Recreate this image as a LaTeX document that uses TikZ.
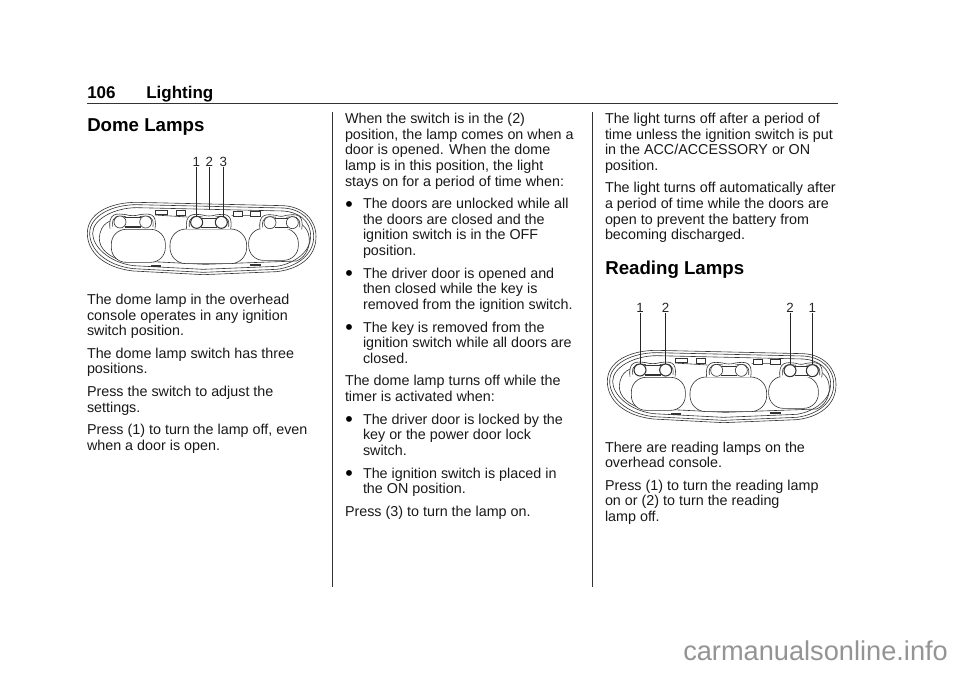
\documentclass[tikz,border=0pt]{standalone}
\usepackage{fontspec}
\setmainfont{Liberation Sans}
\tikzset{
  txt/.style={anchor=base west,inner sep=0pt,outer sep=0pt,font=\fontsize{10.75}{12}\selectfont,text=black!90},
  bul/.style={anchor=base west,inner sep=0pt,outer sep=0pt,font=\fontsize{16}{17}\selectfont,text=black},
  hd/.style={anchor=base west,inner sep=0pt,font=\bfseries\fontsize{12.75}{14}\selectfont},
  ttl/.style={anchor=base west,inner sep=0pt,font=\bfseries\fontsize{14}{16}\selectfont},
  num/.style={inner sep=0pt,font=\fontsize{10}{11}\selectfont,text=black!85},
  ln/.style={draw=black!80,line width=0.45pt},
  lead/.style={draw=black!85,line width=0.6pt},
  rulel/.style={draw=black!80,line width=0.7pt},
}
\newcommand{\tl}[4]{\node[txt] (#1) at (#2,#3) {#4};}
\newcommand{\bl}[2]{\node[bul] (#1) at (345.3,#2+2.8) {•};}
\newcommand{\shell}[1]{%
  \draw[ln] ({22+#1},265) .. controls ({22+#1},{205+#1}) and ({90+#1},{172+#1}) .. (170,{172+#1})
    -- (610,{182+#1}) .. controls ({670-#1},{185+#1}) and ({708-#1},{225}) .. ({708-#1},275)
    .. controls ({708-#1},{335-#1}) and ({660-#1},{372-#1}) .. (590,{380-#1})
    -- (370,{389-#1}) -- (160,{378-#1}) .. controls ({70+#1},{368-#1}) and ({22+#1},{320-#1}) .. ({22+#1},265) -- cycle;}
\newcommand{\cowl}[5]{%
  \draw[ln,fill=white] ({#1-30},{#3+20}) .. controls ({#1-36},{#3-28}) and ({#1-10},{#3-26}) .. ({#1+18},{#3-22})
    .. controls ({#1+30},{#3-18}) and ({#2-30},{#3-18}) .. ({#2-18},{#3-22})
    .. controls ({#2+10},{#3-26}) and ({#2+36},{#3-28}) .. ({#2+28},{#3+20});
  \draw[ln] ({#1+14},{#3-13}) -- ({#2-14},{#3-13});
  \draw[ln,line width=0.8pt] ({#1+14},{#3+15}) -- ({#2-14},{#3+15});
  \draw[ln] ({#1-22},{#3+14}) .. controls ({#1-26},{#3-20}) and ({#1-6},{#3-20}) .. ({#1+18},{#3-16});
  \draw[ln] ({#2-18},{#3-16}) .. controls ({#2+6},{#3-20}) and ({#2+26},{#3-20}) .. ({#2+22},{#3+14});
  \draw[line width=#4,draw=black!80,fill=white] (#1,#3) circle (18);
  \draw[line width=#5,draw=black!80,fill=white] (#2,#3) circle (18);}
\newcommand{\consolebody}[3]{%
  \shell{0}\shell{7}\shell{16}
  \draw[ln] (120,345) .. controls (75,330) and (50,300) .. (60,265) .. controls (65,245) and (75,235) .. (90,228);
  \draw[ln] (650,348) .. controls (680,335) and (695,300) .. (685,265) .. controls (680,250) and (670,242) .. (660,234);
  \draw[ln] (120,345) -- (375,358) -- (650,348);
  \draw[ln] (225,210) -- (322,216) (455,212) -- (540,212);
  \draw[ln,fill=white] (227,195) rectangle (261,208);
  \draw[ln,fill=white] (290,196) rectangle (317,211);
  \draw[ln,fill=white] (460,198) rectangle (486,213);
  \draw[ln,fill=white] (510,198) rectangle (542,213);
  \draw[ln,fill=black!45] (215,361) rectangle (240,365);
  \draw[ln,fill=black!45] (510,357) rectangle (540,361);
  \draw[ln,fill=white,rounded corners=11pt] (94,253) rectangle (256,352);
  \draw[ln,fill=white,rounded corners=12pt] (270,252) rectangle (500,356);
  \draw[ln,fill=white,rounded corners=11pt] (506,250) rectangle (655,346);
  \cowl{120}{197}{231}{#1}{#1}{0}
  \cowl{350}{424}{232}{#2}{#2}{0}
  \cowl{570}{637}{233}{#3}{#3}{0}
}
\begin{document}
\begin{tikzpicture}[x=0.75pt,y=-0.75pt]
\useasboundingbox (0,0) rectangle (960,678);
\fill[white] (0,0) rectangle (960,678);
\node[hd] (pg) at (87,98.5) {106};
\node[hd] (sec) at (146,98.5) {Lighting};
\coordinate (h1) at (87,103.5); \coordinate (h2) at (838,103.5);
\draw[rulel,line width=1.1pt] (h1) -- (h2);
\coordinate (c1a) at (332,112); \coordinate (c1b) at (332,587);
\coordinate (c2a) at (592,112); \coordinate (c2b) at (592,587);
\draw[rulel] (c1a) -- (c1b); \draw[rulel] (c2a) -- (c2b);
\node[ttl] (t1) at (87,131) {Dome Lamps};
\node[ttl] (t2) at (605,274) {Reading Lamps};
% column 1
\tl{a1}{87}{304.3}{The dome lamp in the overhead}
\tl{a2}{87}{320}{console operates in any ignition}
\tl{a3}{87}{335.6}{switch position.}
\tl{a4}{87}{358.2}{The dome lamp switch has three}
\tl{a5}{87}{373.9}{positions.}
\tl{a6}{87}{396.5}{Press the switch to adjust the}
\tl{a7}{87}{412.1}{settings.}
\tl{a8}{87}{434.7}{Press (1) to turn the lamp off, even}
\tl{a9}{87}{450.4}{when a door is open.}
% column 2
\tl{b1}{345}{123.3}{When the switch is in the (2)}
\tl{b2}{345}{139}{position, the lamp comes on when a}
\tl{b3}{345}{154.6}{door is opened. When the dome}
\tl{b4}{345}{170.3}{lamp is in this position, the light}
\tl{b5}{345}{186}{stays on for a period of time when:}
\bl{d1}{208.6}
\tl{b6}{363}{208.6}{The doors are unlocked while all}
\tl{b7}{363}{224.2}{the doors are closed and the}
\tl{b8}{363}{239.9}{ignition switch is in the OFF}
\tl{b9}{363}{255.5}{position.}
\bl{d2}{278.1}
\tl{b10}{363}{278.1}{The driver door is opened and}
\tl{b11}{363}{293.8}{then closed while the key is}
\tl{b12}{363}{309.4}{removed from the ignition switch.}
\bl{d3}{332}
\tl{b13}{363}{332}{The key is removed from the}
\tl{b14}{363}{347.7}{ignition switch while all doors are}
\tl{b15}{363}{363.3}{closed.}
\tl{b16}{345}{385.9}{The dome lamp turns off while the}
\tl{b17}{345}{401.5}{timer is activated when:}
\bl{d4}{424.1}
\tl{b18}{363}{424.1}{The driver door is locked by the}
\tl{b19}{363}{439.7}{key or the power door lock}
\tl{b20}{363}{455.4}{switch.}
\bl{d5}{478}
\tl{b21}{363}{478}{The ignition switch is placed in}
\tl{b22}{363}{493.6}{the ON position.}
\tl{b23}{345}{516.4}{Press (3) to turn the lamp on.}
% column 3
\tl{e1}{605}{123.3}{The light turns off after a period of}
\tl{e2}{605}{139}{time unless the ignition switch is put}
\tl{e3}{605}{154.6}{in the ACC/ACCESSORY or ON}
\tl{e4}{605}{170.3}{position.}
\tl{e5}{605}{192.9}{The light turns off automatically after}
\tl{e6}{605}{208.5}{a period of time while the doors are}
\tl{e7}{605}{224.2}{open to prevent the battery from}
\tl{e8}{605}{239.8}{becoming discharged.}
\tl{e9}{605}{452}{There are reading lamps on the}
\tl{e10}{605}{467.6}{overhead console.}
\tl{e11}{605}{490.2}{Press (1) to turn the reading lamp}
\tl{e12}{605}{505.9}{on or (2) to turn the reading}
\tl{e13}{605}{521.5}{lamp off.}
% dome console
\begin{scope}[shift={(80,145)},x=0.25pt,y=-0.25pt]
  \consolebody{0.45pt}{0.8pt}{0.45pt}
  \node[num] (n1) at (349,50) {1};
  \node[num] (n2) at (388,50) {2};
  \node[num] (n3) at (430,50) {3};
  \coordinate (p1) at (349,215); \coordinate (p2) at (388,195); \coordinate (p3) at (430,215);
  \draw[lead] (n1.south) -- (p1); \draw[lead] (n2.south) -- (p2); \draw[lead] (n3.south) -- (p3);
\end{scope}
% reading console
\begin{scope}[shift={(600,293)},x=0.25pt,y=-0.25pt]
  \consolebody{0.8pt}{0.45pt}{0.8pt}
  \node[num] (m1) at (120,46) {1};
  \node[num] (m2) at (197,46) {2};
  \node[num] (m3) at (570,46) {2};
  \node[num] (m4) at (637,46) {1};
  \coordinate (q1) at (120,214); \coordinate (q2) at (197,214); \coordinate (q3) at (570,214); \coordinate (q4) at (637,214);
  \draw[lead] (m1.south) -- (q1); \draw[lead] (m2.south) -- (q2); \draw[lead] (m3.south) -- (q3); \draw[lead] (m4.south) -- (q4);
\end{scope}
\node[anchor=base west,inner sep=0pt,font=\fontsize{20.4}{22}\selectfont,text=black!42] (wm) at (683,660) {carmanualsonline.info};
\end{tikzpicture}
\end{document}
